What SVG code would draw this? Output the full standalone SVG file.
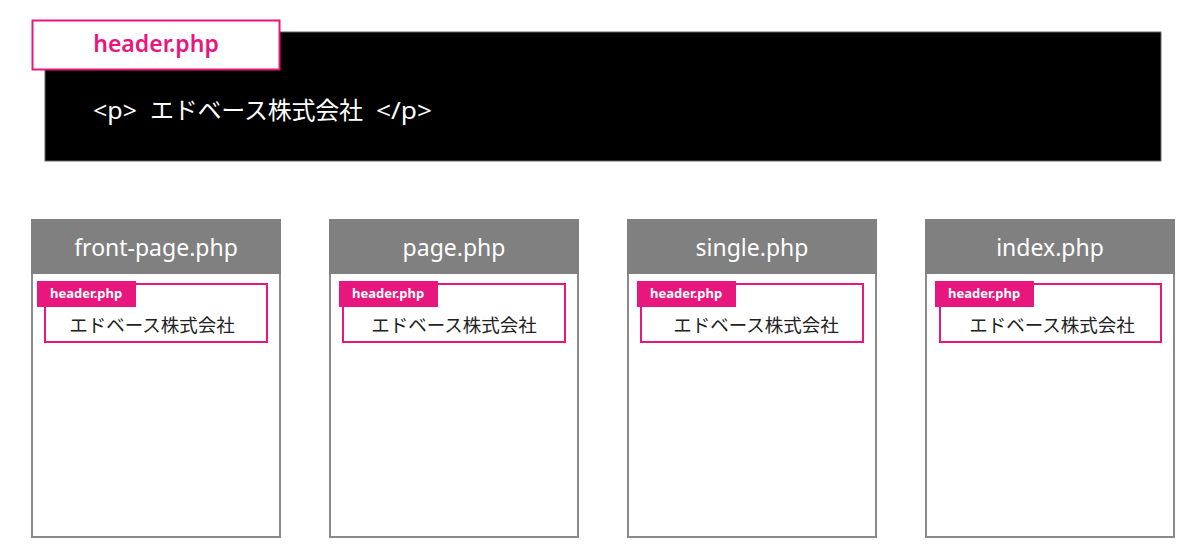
<svg xmlns="http://www.w3.org/2000/svg" width="1200" height="559" viewBox="0 0 1200 559">
<style>
text{font-family:"Noto Sans","Noto Sans CJK JP",sans-serif}
.card{fill:#fff;stroke:#8a8a8a;stroke-width:2}
.cardhead{fill:#808080}
.title{fill:#fff;font-size:23px;text-anchor:middle}
.inner{fill:#fff;stroke:#e8177d;stroke-width:2}
.lbl{fill:#e8177d}
.lbltxt{fill:#fff;font-size:13px;font-weight:bold}
.jp{fill:#222;font-size:18.5px;text-anchor:middle;font-family:"Noto Sans CJK JP",sans-serif}
</style>
<rect width="1200" height="559" fill="#fff"/>
<g id="header-main">
<rect x="45" y="32" width="1116" height="129" fill="#000" stroke="#666" stroke-width="1"/>
<rect x="32.5" y="20.5" width="247" height="49" fill="#fff" stroke="#e8177d" stroke-width="2"/>
<text x="156" y="52" font-size="23" font-weight="600" fill="#e8177d" text-anchor="middle">header.php</text>
<text y="119" font-size="24" fill="#fff"><tspan x="93" textLength="44" lengthAdjust="spacingAndGlyphs">&lt;p&gt;</tspan> <tspan x="150" textLength="213" font-family="Noto Sans CJK JP,sans-serif">エドベース株式会社</tspan> <tspan x="376" textLength="56" lengthAdjust="spacingAndGlyphs">&lt;/p&gt;</tspan></text>
</g>
<g id="card-front-page">
<rect class="card" x="32" y="220" width="248" height="317"/>
<rect class="cardhead" x="31" y="219" width="250" height="55"/>
<text class="title" x="156" y="256">front-page.php</text>
<rect class="inner" x="45" y="284" width="222" height="58"/>
<rect class="lbl" x="37" y="281" width="99" height="26"/>
<text class="lbltxt" x="50" y="298">header.php</text>
<text class="jp" x="152" y="332">エドベース株式会社</text>
</g>
<g id="card-page">
<rect class="card" x="330" y="220" width="248" height="317"/>
<rect class="cardhead" x="329" y="219" width="250" height="55"/>
<text class="title" x="454" y="256">page.php</text>
<rect class="inner" x="343" y="284" width="222" height="58"/>
<rect class="lbl" x="339" y="281" width="99" height="26"/>
<text class="lbltxt" x="352" y="298">header.php</text>
<text class="jp" x="454" y="332">エドベース株式会社</text>
</g>
<g id="card-single">
<rect class="card" x="628" y="220" width="248" height="317"/>
<rect class="cardhead" x="627" y="219" width="250" height="55"/>
<text class="title" x="752" y="256">single.php</text>
<rect class="inner" x="641" y="284" width="222" height="58"/>
<rect class="lbl" x="637" y="281" width="99" height="26"/>
<text class="lbltxt" x="650" y="298">header.php</text>
<text class="jp" x="756" y="332">エドベース株式会社</text>
</g>
<g id="card-index">
<rect class="card" x="926" y="220" width="248" height="317"/>
<rect class="cardhead" x="925" y="219" width="250" height="55"/>
<text class="title" x="1050" y="256">index.php</text>
<rect class="inner" x="940" y="284" width="221" height="58"/>
<rect class="lbl" x="935" y="281" width="99" height="26"/>
<text class="lbltxt" x="948" y="298">header.php</text>
<text class="jp" x="1052" y="332">エドベース株式会社</text>
</g>
<g id="connectors"/>
</svg>
